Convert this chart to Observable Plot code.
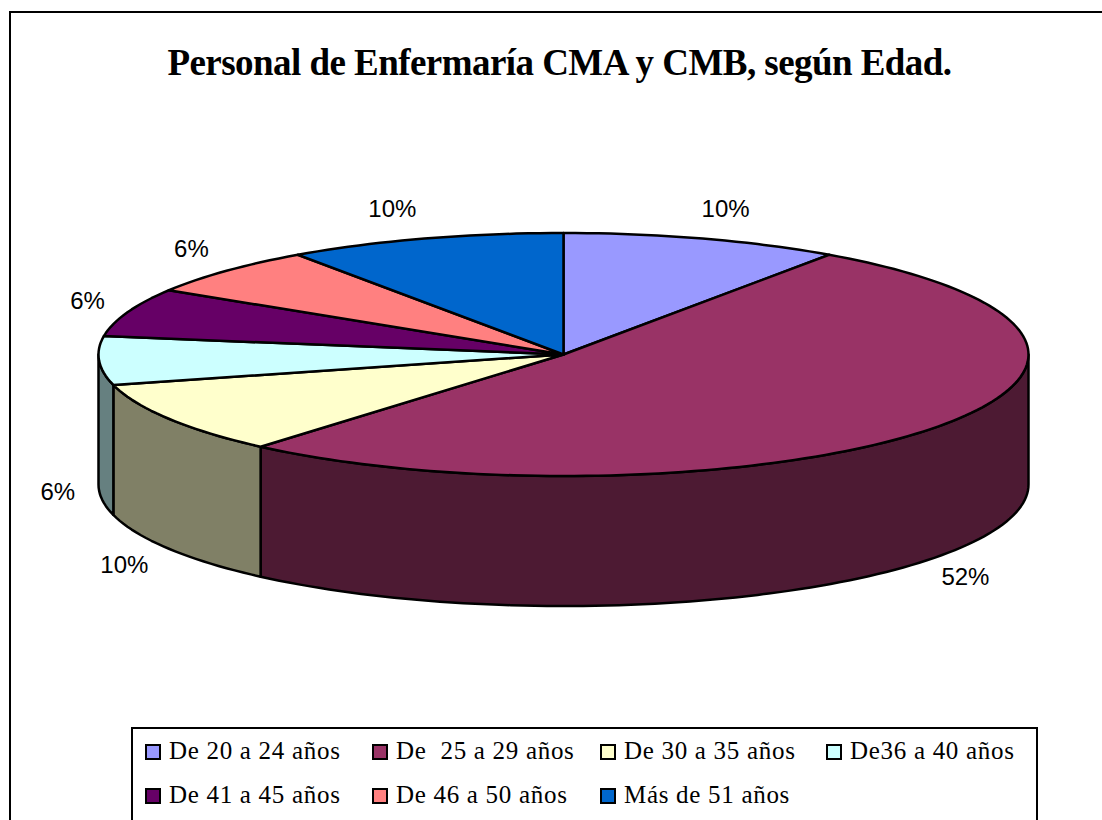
<!DOCTYPE html>
<html lang="es">
<head>
<meta charset="utf-8">
<script src="https://cdn.jsdelivr.net/npm/d3@7"></script>
<script src="https://cdn.jsdelivr.net/npm/@observablehq/plot@0.6"></script>
<style>
  html, body { margin: 0; padding: 0; background: #fff; }
  #page { position: relative; width: 1102px; height: 820px; overflow: hidden; }
  #frame { position: absolute; left: 9px; top: 11px; width: 1100px; height: 830px; border: 2px solid #000; }
  #title { position: absolute; left: 0; width: 1119px; top: 41px; text-align: center; letter-spacing: -0.55px;
           font: bold 37px "Liberation Serif", serif; color: #000; white-space: nowrap; }
  #chart { position: absolute; left: 0; top: 0; }
  #legend { position: absolute; left: 131px; top: 727px; width: 903px; height: 120px; border: 2px solid #000; background: #fff;
            font: 25px "Liberation Serif", serif; letter-spacing: 0.7px; color: #000; }
  .item { position: absolute; white-space: pre; line-height: 28px; }
  .swatch { position: absolute; width: 12px; height: 12px; border: 2px solid #000; left: -24px; top: 7px; }
</style>
</head>
<body>
<div id="page">
  <div id="frame"></div>
  <div id="chart"></div>
  <div id="title">Personal de Enfermaría CMA y CMB, según Edad.</div>
  <div id="legend"></div>
</div>
<script>
const titleText = "Personal de Enfermaría CMA y CMB, según Edad.";
const categories = ["De 20 a 24 años", "De  25 a 29 años", "De 30 a 35 años", "De36 a 40 años", "De 41 a 45 años", "De 46 a 50 años", "Más de 51 años"];
const counts = [3, 16, 3, 2, 2, 2, 3];
const topColors = ["#9999ff", "#993366", "#ffffcc", "#ccffff", "#660066", "#ff8080", "#0066cc"];
const sideColors = ["#4d4d80", "#4d1a33", "#808066", "#668080", "#330033", "#804040", "#003366"];

// Pie geometry, in the frame of the picture
const cx = 563, cy = 354, rx = 465, ry = 121.5, depth = 130;
const labelRx = 488, labelRy = 152;

const total = d3.sum(counts);
const arcs = d3.pie().sort(null).startAngle(0).endAngle(2 * Math.PI)(counts);
const ex = (a, r = rx) => cx + r * Math.sin(a);
const ey = (a, r = ry) => cy - r * Math.cos(a);

function arcAngles(a0, a1) {
  const n = Math.max(2, Math.ceil((a1 - a0) / (Math.PI / 120)));
  return d3.range(n + 1).map(i => a0 + (a1 - a0) * i / n);
}

const polygons = [];
// Rim faces: only the part of each slice's edge facing the viewer
arcs.forEach((arc, i) => {
  const a0 = Math.max(arc.startAngle, Math.PI / 2);
  const a1 = Math.min(arc.endAngle, 3 * Math.PI / 2);
  if (a1 <= a0) return;
  const as = arcAngles(a0, a1);
  const id = "side" + i;
  as.forEach(a => polygons.push({id, fill: sideColors[i], x: ex(a), y: ey(a)}));
  as.slice().reverse().forEach(a => polygons.push({id, fill: sideColors[i], x: ex(a), y: ey(a) + depth}));
});
// Top faces
arcs.forEach((arc, i) => {
  const id = "top" + i;
  polygons.push({id, fill: topColors[i], x: cx, y: cy});
  arcAngles(arc.startAngle, arc.endAngle).forEach(a => polygons.push({id, fill: topColors[i], x: ex(a), y: ey(a)}));
});

const labels = arcs.map((arc, i) => {
  const mid = (arc.startAngle + arc.endAngle) / 2;
  const front = mid > Math.PI / 2 && mid < 3 * Math.PI / 2;
  return {
    text: d3.format(".0f")(100 * counts[i] / total) + "%",
    x: ex(mid, labelRx),
    y: ey(mid, labelRy) + (front ? depth : 0),
    anchor: mid < Math.PI ? "start" : "end"
  };
});

const chart = Plot.plot({
  width: 1102,
  height: 720,
  margin: 0,
  x: {domain: [0, 1102], range: [0, 1102], axis: null},
  y: {domain: [0, 720], range: [0, 720], axis: null},
  marks: [
    Plot.line(polygons, {
      x: "x", y: "y", z: "id",
      fill: {value: "fill", scale: null},
      stroke: "#000", strokeWidth: 2.5, strokeLinejoin: "round",
      curve: "linear-closed"
    }),
    Plot.text(labels.filter(d => d.anchor === "start"), {
      x: "x", y: "y", text: "text", textAnchor: "start", dx: -8,
      fontSize: 24, fontFamily: "Liberation Sans", fill: "#000"
    }),
    Plot.text(labels.filter(d => d.anchor === "end"), {
      x: "x", y: "y", text: "text", textAnchor: "end", dx: -1,
      fontSize: 24, fontFamily: "Liberation Sans", fill: "#000"
    })
  ]
});
document.getElementById("chart").append(chart);
document.getElementById("title").textContent = titleText;

// Legend below the pie
const legendColumns = [36, 263, 491, 717];
const legendRows = [8, 52];
const legendSlots = [[0,0],[1,0],[2,0],[3,0],[0,1],[1,1],[2,1]];
const legend = document.getElementById("legend");
categories.forEach((c, i) => {
  const item = document.createElement("div");
  item.className = "item";
  item.style.left = legendColumns[legendSlots[i][0]] + "px";
  item.style.top = legendRows[legendSlots[i][1]] + "px";
  const sw = document.createElement("span");
  sw.className = "swatch";
  sw.style.background = topColors[i];
  item.append(sw, document.createTextNode(c));
  legend.append(item);
});
</script>
</body>
</html>
